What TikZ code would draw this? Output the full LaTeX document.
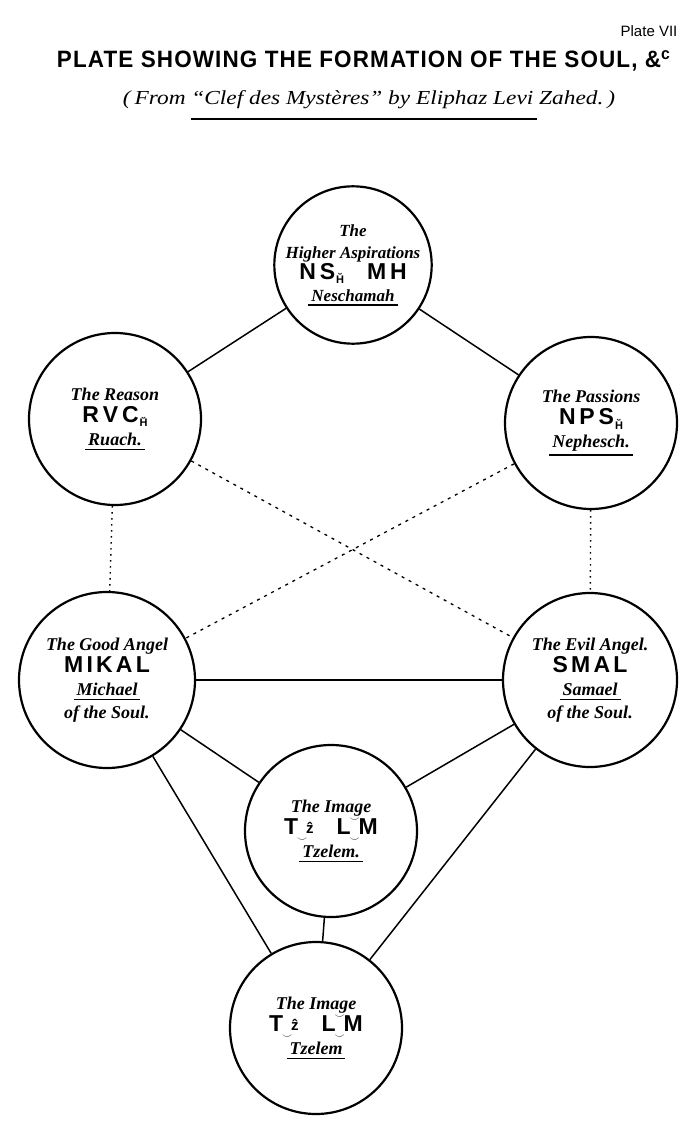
\documentclass[tikz,border=0pt]{standalone}
\usepackage{fontspec}
\setmainfont{Liberation Serif}
\newfontfamily\hsans{Liberation Sans}
\newcommand\heb[1]{{\hsans\bfseries\upshape\fontsize{23}{24}\selectfont\addfontfeature{LetterSpace=14}#1}}
\newcommand\hsub{\kern1pt\raisebox{-0.2em}{\fontsize{11}{11}\selectfont\u{H}}}
\newcommand\utie{\raisebox{-0.3em}{\fontsize{10}{10}\selectfont$\smile$}}
\newcommand\tz{\kern-1pt\utie\kern-1pt\raisebox{0.05em}{\fontsize{15}{15}\selectfont\^{z}}}
\newcommand\lm{\kern-1pt\ooalign{\raisebox{-0.3em}{\fontsize{10}{10}\selectfont$\smile$}\cr\raisebox{0.55em}{\fontsize{10}{10}\selectfont$\smile$}}\kern-1pt}
\newcommand\ul[1]{\leavevmode\vtop{\hbox{\kern3pt#1\kern3pt}\kern3pt\hrule height 1.6pt}}
\begin{document}
\begin{tikzpicture}[x=1pt,y=-1pt,
  soul/.style={circle, draw, line width=2.2pt, inner sep=0pt, align=center,
    font=\bfseries\itshape\fontsize{18}{23}\selectfont},
  link/.style={line width=1.5pt},
  dotlink/.style={line width=1.4pt, dash pattern=on 1.5pt off 4.5pt},
  dashlink/.style={line width=1.3pt, dash pattern=on 3pt off 5pt}]
\useasboundingbox (0,0) rectangle (700,1131);
\fill[white] (0,0) rectangle (700,1131);

% header
\node (plate) at (649,31) {\hsans\fontsize{15}{15}\selectfont Plate VII};
\node (title) at (364,61) {\resizebox{614pt}{17.5pt}{\hsans\bfseries\addfontfeature{LetterSpace=5}PLATE SHOWING THE FORMATION OF THE SOUL, \&\textsuperscript{c}}};
\node (subtitle) at (369,100) {\resizebox{492pt}{14pt}{\itshape (\,From “Clef des Mystères” by Eliphaz Levi Zahed.\,)}};
\coordinate (ulA) at (191,119);
\coordinate (ulB) at (537,119);
\draw[line width=1.6pt] (ulA) -- (ulB);

% circles
\node[soul, minimum size=156pt, font=\bfseries\itshape\fontsize{17}{22}\selectfont] (top) at (353,265)
  {The\\Higher Aspirations\\[-1pt]\heb{N\,S\hsub\quad M\,H}\\\ul{Neschamah}};
\node[soul, minimum size=172pt] (reason) at (115,419)
  {The Reason\\[-1pt]\heb{R\,V\,C\hsub}\\\ul{Ruach.}};
\node[soul, minimum size=172pt] (passions) at (591,423)
  {The Passions\\[-1pt]\heb{N\,P\,S\hsub}\\\ul{Nephesch.}};
\node[soul, minimum size=176pt] (good) at (107,680)
  {The Good Angel\\[-1pt]\heb{MIKAL}\\\ul{Michael}\\of the Soul.};
\node[soul, minimum size=174pt] (evil) at (590,680)
  {The Evil Angel.\\[-1pt]\heb{SMAL}\\\ul{Samael}\\of the Soul.};
\node[soul, minimum size=172pt] (mid) at (331,831)
  {The Image\\[-1pt]\heb{T\tz\quad L\lm M}\\\ul{Tzelem.}};
\node[soul, minimum size=172pt] (bot) at (316,1028)
  {The Image\\[-1pt]\heb{T\tz\quad L\lm M}\\\ul{Tzelem}};

% connectors
\draw[link] (top) -- (reason);
\draw[link] (top) -- (passions);
\draw[dotlink] (reason) -- (good);
\draw[dotlink] (passions) -- (evil);
\draw[dashlink] (reason) -- (evil);
\draw[dashlink] (passions) -- (good);
\draw[link] (good) -- (evil);
\draw[link] (good) -- (mid);
\draw[link] (evil) -- (mid);
\draw[link] (good) -- (bot);
\draw[link] (evil) -- (bot);
\draw[link] (mid) -- (bot);
\end{tikzpicture}
\end{document}
